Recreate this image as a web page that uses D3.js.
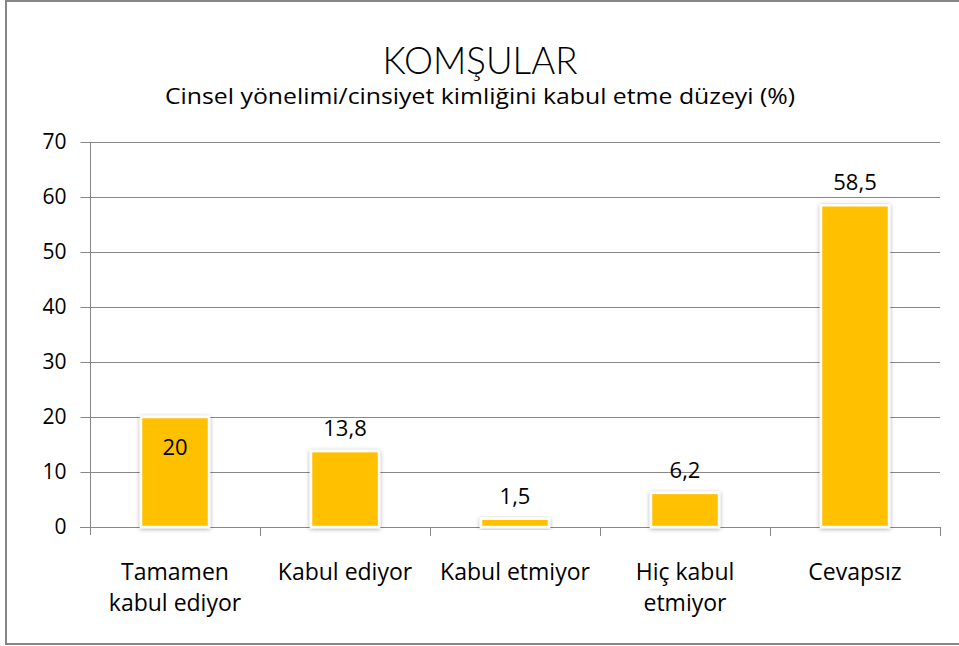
<!DOCTYPE html>
<html>
<head>
<meta charset="utf-8">
<script src="https://cdn.jsdelivr.net/npm/d3@7"></script>
<style>
  html, body { margin: 0; padding: 0; background: #fff; }
  svg { display: block; font-family: "Open Sans", Lato, sans-serif; }
</style>
</head>
<body>
<svg id="chart" width="959" height="646"></svg>
<script>
// Chart content
const title = "KOMŞULAR";
const subtitle = "Cinsel yönelimi/cinsiyet kimliğini kabul etme düzeyi (%)";
const categories = [
  ["Tamamen", "kabul ediyor"],
  ["Kabul ediyor"],
  ["Kabul etmiyor"],
  ["Hiç kabul", "etmiyor"],
  ["Cevapsız"]
];
const values = [20, 13.8, 1.5, 6.2, 58.5];
const valueLabels = ["20", "13,8", "1,5", "6,2", "58,5"];
const yTicks = [0, 10, 20, 30, 40, 50, 60, 70];

const svg = d3.select("#chart");
const plotLeft = 90, plotRight = 940, plotTop = 142, plotBottom = 527;

// Outer frame
svg.append("rect")
  .attr("x", 6).attr("y", 1).attr("width", 970).attr("height", 643)
  .attr("fill", "#fff").attr("stroke", "#868686").attr("stroke-width", 2);

const band = d3.scaleBand().domain(d3.range(categories.length)).range([plotLeft, plotRight]);
const y = d3.scaleLinear().domain([0, 70]).range([plotBottom, plotTop]);
const barW = band.bandwidth() * 0.4;

// Titles
svg.append("text").attr("x", 480).attr("y", 74).attr("text-anchor", "middle")
  .attr("font-size", 37).attr("font-weight", 300).attr("fill", "#000").style("font-family", "Lato, sans-serif")
  .attr("textLength", 195).attr("lengthAdjust", "spacingAndGlyphs").text(title);
svg.append("text").attr("x", 480).attr("y", 104).attr("text-anchor", "middle")
  .attr("font-size", 21).attr("fill", "#000").style("font-family", "'Open Sans', sans-serif")
  .attr("textLength", 630).attr("lengthAdjust", "spacingAndGlyphs").text(subtitle);

// Gridlines
svg.append("g").selectAll("line").data(yTicks.filter(d => d > 0)).join("line")
  .attr("x1", plotLeft).attr("x2", plotRight)
  .attr("y1", d => Math.round(y(d)) + 0.5).attr("y2", d => Math.round(y(d)) + 0.5)
  .attr("stroke", "#878787").attr("stroke-width", 1);

// Y axis
const yAxis = svg.append("g").attr("transform", `translate(${plotLeft + 0.5},0)`)
  .call(d3.axisLeft(y).tickValues(yTicks).tickSize(10).tickPadding(14).tickFormat(d3.format("d")));
yAxis.select(".domain").attr("stroke", "#878787").attr("d", `M0,${plotTop}V${plotBottom + 8}`);
yAxis.selectAll(".tick line").attr("stroke", "#878787");
yAxis.selectAll(".tick text").attr("font-size", 21).attr("fill", "#000")
  .style("font-family", "'Open Sans', sans-serif");

// X axis line and category ticks
const xg = svg.append("g");
xg.append("line").attr("x1", plotLeft - 10).attr("x2", plotRight)
  .attr("y1", plotBottom + 0.5).attr("y2", plotBottom + 0.5).attr("stroke", "#878787");
xg.selectAll("line.tk").data(d3.range(1, categories.length + 1)).join("line").attr("class", "tk")
  .attr("x1", d => Math.round(band(d - 1) + band.bandwidth()) + 0.5)
  .attr("x2", d => Math.round(band(d - 1) + band.bandwidth()) + 0.5)
  .attr("y1", plotBottom).attr("y2", plotBottom + 9).attr("stroke", "#878787");

// Bar shadow filter
const defs = svg.append("defs");
const f = defs.append("filter").attr("id", "glow").attr("x", "-30%").attr("y", "-30%").attr("width", "160%").attr("height", "160%");
f.append("feDropShadow").attr("dx", 0).attr("dy", 1).attr("stdDeviation", 2.2).attr("flood-color", "#000").attr("flood-opacity", 0.35);

// Bars
svg.append("g").selectAll("rect").data(values).join("rect")
  .attr("x", (d, i) => band(i) + band.bandwidth() / 2 - barW / 2)
  .attr("width", barW)
  .attr("y", d => y(d))
  .attr("height", d => plotBottom - y(d))
  .attr("fill", "#FFC000")
  .attr("stroke", "#fff").attr("stroke-width", 2.5)
  .attr("filter", "url(#glow)");

// Value labels
svg.append("g").selectAll("text").data(values).join("text")
  .attr("x", (d, i) => band(i) + band.bandwidth() / 2)
  .attr("y", (d, i) => i === 0 ? y(d) + 38 : y(d) - 15)
  .attr("text-anchor", "middle").attr("font-size", 22).attr("fill", "#000")
  .text((d, i) => valueLabels[i]);

// Category labels
const cl = svg.append("g").selectAll("text").data(categories).join("text")
  .attr("x", (d, i) => band(i) + band.bandwidth() / 2)
  .attr("y", 580).attr("text-anchor", "middle").attr("font-size", 23).attr("fill", "#000");
cl.selectAll("tspan").data(d => d).join("tspan")
  .attr("x", function() { return d3.select(this.parentNode).attr("x"); })
  .attr("dy", (d, j) => j === 0 ? 0 : 31)
  .text(d => d);
</script>
</body>
</html>
